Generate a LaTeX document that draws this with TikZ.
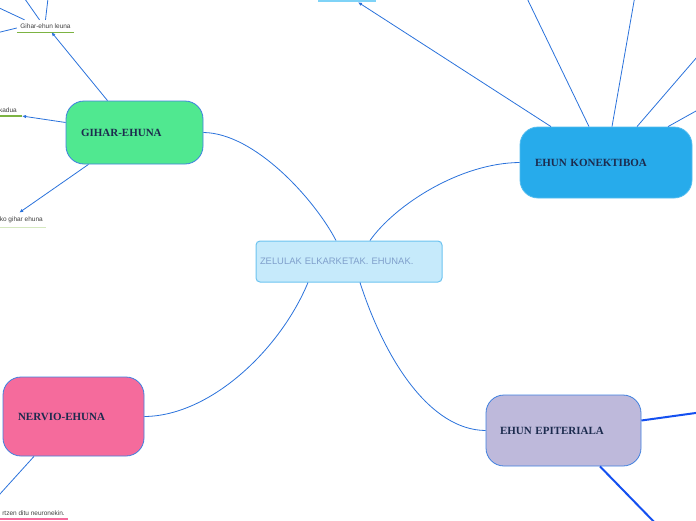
\documentclass[tikz,border=0pt]{standalone}
\usepackage{fontspec}
\setmainfont{Liberation Sans}
\newfontfamily\titlefont{Liberation Serif}
\usetikzlibrary{arrows.meta}
\definecolor{linkblue}{HTML}{2A72DB}
\definecolor{epiblue}{HTML}{1450F0}
\definecolor{navy}{HTML}{1C2B4E}
\definecolor{gihargreen}{HTML}{50E890}
\definecolor{konekblue}{HTML}{27ABEB}
\definecolor{nerviopink}{HTML}{F56B9C}
\definecolor{epililac}{HTML}{BEB9DB}
\definecolor{zelfill}{HTML}{C6EAFB}
\definecolor{zeledge}{HTML}{6CC3F0}
\definecolor{zeltext}{HTML}{7F9FCB}
\definecolor{leafgreen}{HTML}{7CB342}
\definecolor{palegreen}{HTML}{D5E8C0}
\definecolor{topsky}{HTML}{7FD3F7}
\begin{document}
\begin{tikzpicture}[x=1pt,y=-1pt,
  every node/.style={font=\fontsize{6.5}{7}\selectfont},
  topic/.style={draw=linkblue!90,line width=0.8pt,rounded corners=18pt,align=left,inner xsep=15pt,
    font=\titlefont\bfseries\fontsize{11}{12}\selectfont,text=navy},
  leaf/.style={inner xsep=3pt,inner ysep=0pt,minimum height=12pt,text=black!75},
  link/.style={linkblue,line width=0.8pt},
  tip/.style={-{Latex[length=4pt,width=3.5pt]}},
  thicklink/.style={epiblue,line width=2pt}]
\useasboundingbox (0,0) rectangle (696,520);
\clip (0,0) rectangle (696,520);
% main topics
\node[draw=zeledge,fill=zelfill,rounded corners=4pt,line width=1pt,text width=178pt,
  minimum height=41pt,inner xsep=4pt,align=left,text=zeltext,
  font=\fontsize{9.4}{10}\selectfont] (zel) at (349,261.5) {ZELULAK ELKARKETAK. EHUNAK.};
\node[topic,fill=gihargreen,text width=107pt,minimum height=63pt] (gihar) at (134.5,132.5) {GIHAR-EHUNA};
\node[topic,fill=konekblue,draw=konekblue!80!white,text width=142pt,minimum height=71pt] (konek) at (606,162.5) {EHUN KONEKTIBOA};
\node[topic,fill=nerviopink,text width=111pt,minimum height=79pt] (nervio) at (73.5,416.5) {NERVIO-EHUNA};
\node[topic,fill=epililac,text width=127pt,inner xsep=14pt,minimum height=71pt] (epit) at (563.5,430.5) {EHUN EPITERIALA};
\draw[link] ([xshift=-13pt]zel.north) .. controls (315,200) and (255,133) .. (gihar.east);
\draw[link] ([xshift=21pt]zel.north) .. controls (395,205) and (460,163) .. (konek.west);
\draw[link] ([xshift=-41pt]zel.south) .. controls (280,350) and (210,416) .. (nervio.east);
\draw[link] ([xshift=11pt]zel.south) .. controls (385,360) and (430,430) .. (epit.west);
% gihar-ehuna leaves
\node[leaf,minimum width=57pt] (leuna) at (45.5,26) {Gihar-ehun leuna};
\draw[leafgreen,line width=1.2pt] (leuna.south west) -- (leuna.south east);
\draw[link,tip] ([xshift=-27pt]gihar.north) -- ([xshift=6pt]leuna.south);
\node[leaf,anchor=south east,inner xsep=5pt] (kadua) at (22,116) {kadua};
\draw[leafgreen,line width=1.2pt] (0,116) -- (kadua.south east);
\draw[link,tip] ([yshift=10pt]gihar.west) -- (kadua.south east);
\node[leaf,anchor=south east,minimum height=14pt] (kogihar) at (46,227) {ko gihar ehuna};
\draw[palegreen,line width=1pt] (0,227) -- (kogihar.south east);
\draw[link,tip] ([xshift=-46pt]gihar.south) -- ([xshift=-2pt]kogihar.north);
\coordinate (l1) at (20,-8); \coordinate (l2) at (49,-10);
\coordinate (l3) at (-20,-1); \coordinate (l4) at (-20,37);
\draw[link] ([xshift=-6pt]leuna.north) -- (l1);
\draw[link] ([xshift=0pt]leuna.north) -- (l2);
\draw[link] ([xshift=-21pt]leuna.north) -- (l3);
\draw[link] ([yshift=-2pt]leuna.west) -- (l4);
% nervio-ehuna leaf
\node[leaf,anchor=south east] (neuron) at (68,519) {rtzen ditu neuronekin.};
\draw[nerviopink,line width=1.2pt] (0,519) -- (neuron.south east);
\coordinate (n1) at (-10,505);
\draw[link] ([xshift=-39.5pt]nervio.south) -- (n1);
% ehun konektiboa leaves
\node[fill=topsky,minimum width=58pt,minimum height=22pt] (topbox) at (347,-9) {};
\draw[link,tip] ([xshift=-55pt]konek.north) -- ([xshift=11pt]topbox.south);
\coordinate (k1) at (523,-10); \coordinate (k2) at (636,-10);
\coordinate (k3) at (710,42); \coordinate (k4) at (714,101);
\draw[link] ([xshift=-17pt]konek.north) -- (k1);
\draw[link] ([xshift=6pt]konek.north) -- (k2);
\draw[link] ([xshift=31pt]konek.north) -- (k3);
\draw[link] ([xshift=62pt]konek.north) -- (k4);
% ehun epiteriala leaves
\coordinate (e1) at (710,411); \coordinate (e2) at (660,528);
\draw[thicklink] ([yshift=10pt]epit.east) -- (e1);
\draw[thicklink] ([xshift=36.5pt]epit.south) -- (e2);
\end{tikzpicture}
\end{document}
